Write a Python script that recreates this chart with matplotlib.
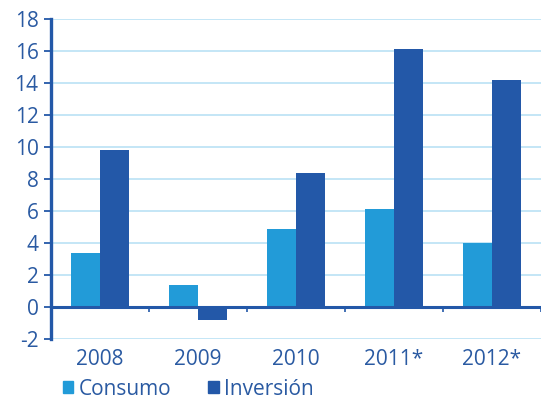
import matplotlib.pyplot as plt
from matplotlib.patches import Patch
import numpy as np

# growth figures per year (%)
years = ['2008', '2009', '2010', '2011*', '2012*']
consumo = [3.4, 1.4, 4.9, 6.1, 4.0]
inversion = [9.8, -0.8, 8.4, 16.1, 14.2]

c_consumo = '#229bd8'
c_inversion = '#2358a8'
c_text = '#2a5aa2'
c_grid = '#bfe4f6'

plt.rcParams['font.family'] = ['Open Sans', 'DejaVu Sans']
plt.rcParams['font.weight'] = 'medium'
plt.rcParams['axes.unicode_minus'] = False

fig = plt.figure(figsize=(5.5, 4), dpi=100)
ax = fig.add_axes([0.0927, 0.1525, 0.8909, 0.8])

x = np.arange(len(years))
w = 0.295
ax.bar(x - w / 2, consumo, w, color=c_consumo, zorder=3)
ax.bar(x + w / 2, inversion, w, color=c_inversion, zorder=3)

ax.set_xlim(-0.5, len(years) - 0.5)
ax.set_ylim(-2, 18)
ax.set_yticks(range(-2, 19, 2))
ax.grid(axis='y', color=c_grid, lw=1.3, zorder=0)
ax.axhline(0, color=c_inversion, lw=2.2, zorder=4)

# small ticks between categories, hanging under the zero line
bounds = np.arange(len(years) + 1) - 0.5
ax.vlines(bounds[1:], -0.3, 0, color=c_inversion, lw=1.2, zorder=4)

ax.set_xticks(x)
ax.set_xticklabels(years)
for sp in ['top', 'right', 'bottom']:
    ax.spines[sp].set_visible(False)
ax.spines['left'].set_color(c_inversion)
ax.spines['left'].set_linewidth(2.4)
ax.tick_params(axis='y', colors=c_inversion, labelcolor=c_text, length=5,
               width=1.3, labelsize=15, pad=4)
ax.tick_params(axis='x', length=0, labelcolor=c_text, labelsize=15, pad=7)

handles = [Patch(color=c_consumo, label='Consumo'),
           Patch(color=c_inversion, label='Inversión')]
fig.legend(handles=handles, loc='center left', bbox_to_anchor=(0.095, 0.027),
           ncol=2, frameon=False, fontsize=15, labelcolor=c_text,
           handlelength=0.5, handleheight=0.5, handletextpad=0.25,
           columnspacing=1.8, borderpad=0)

fig.savefig('out.png', dpi=100)
